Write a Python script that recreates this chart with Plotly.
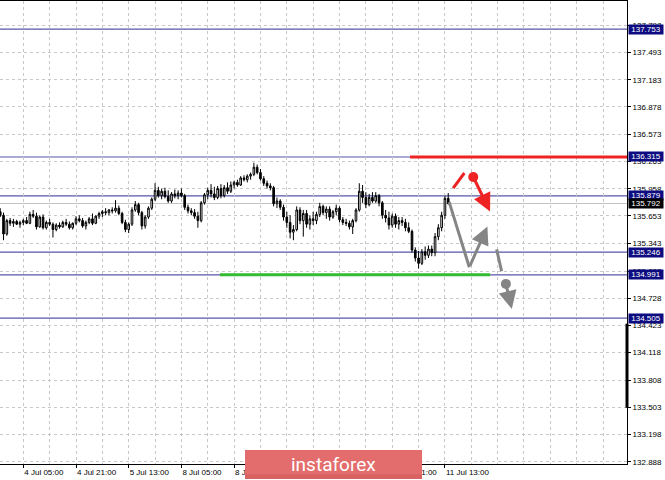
import plotly.graph_objects as go

# ---- data -------------------------------------------------------------
# hour index: 0 = 4 Jul 05:00 (H1 bars, weekend removed)
start_hour = -7
opens = [135.70,135.66,135.45,135.60,135.57,135.59,135.56,135.58,135.60,135.57,135.67,135.65,135.53,135.64,135.52,135.58,
         135.56,135.50,135.55,135.53,135.58,135.56,135.52,135.57,135.62,135.60,135.54,135.58,135.62,135.57,135.65,
         135.68,135.70,135.69,135.72,135.71,135.74,135.68,135.58,135.50,135.56,135.72,135.78,135.69,135.54,135.64,
         135.74,135.84,135.94,135.88,135.93,135.87,135.82,135.90,135.88,135.91,135.88,135.75,135.71,135.69,135.65,
         135.60,135.80,135.89,135.94,135.90,135.86,135.96,135.88,135.97,135.93,136.00,136.03,136.00,136.08,136.06,
         136.10,136.12,136.20,136.14,136.07,136.02,135.99,135.97,135.79,135.82,135.75,135.64,135.58,135.47,135.50,
         135.72,135.60,135.68,135.56,135.62,135.60,135.67,135.76,135.69,135.73,135.64,135.70,135.74,135.61,135.58,
         135.57,135.53,135.60,135.72,135.93,135.86,135.78,135.86,135.82,135.88,135.80,135.66,135.63,135.55,135.65,
         135.56,135.60,135.58,135.52,135.48,135.27,135.18,135.12,135.25,135.21,135.28,135.24,135.42,135.52,135.66,
         135.85]
highs = [135.74,135.69,135.62,135.63,135.62,135.61,135.60,135.62,135.64,135.70,135.72,135.69,135.66,135.67,135.60,135.62,
         135.58,135.57,135.58,135.60,135.62,135.59,135.58,135.65,135.66,135.63,135.60,135.64,135.68,135.66,135.70,
         135.72,135.74,135.73,135.75,135.83,135.77,135.70,135.61,135.58,135.75,135.82,135.80,135.71,135.66,135.76,
         135.86,136.02,135.98,135.96,135.97,135.94,135.92,135.95,135.94,135.96,135.90,135.78,135.74,135.73,135.70,
         135.82,135.91,135.97,136.01,135.98,135.99,136.01,136.00,136.03,136.04,136.05,136.06,136.10,136.11,136.12,
         136.14,136.25,136.23,136.18,136.10,136.05,136.02,135.99,135.86,135.84,135.78,135.70,135.66,135.55,135.76,
         135.75,135.72,135.72,135.66,135.70,135.70,135.80,135.78,135.76,135.76,135.72,135.78,135.76,135.64,135.62,
         135.60,135.62,135.74,136.02,136.00,135.92,135.90,135.92,135.92,135.90,135.82,135.72,135.70,135.68,135.68,
         135.64,135.64,135.62,135.58,135.50,135.30,135.26,135.28,135.31,135.32,135.32,135.46,135.56,135.70,135.88,
         135.91]
lows = [135.64,135.38,135.43,135.54,135.53,135.55,135.52,135.55,135.56,135.56,135.63,135.50,135.52,135.50,135.50,135.54,
        135.41,135.48,135.51,135.52,135.54,135.50,135.50,135.55,135.58,135.52,135.50,135.56,135.55,135.56,135.62,
        135.64,135.66,135.66,135.68,135.69,135.66,135.56,135.47,135.46,135.54,135.70,135.66,135.50,135.51,135.62,
        135.72,135.82,135.86,135.84,135.85,135.80,135.80,135.85,135.84,135.86,135.72,135.68,135.66,135.62,135.52,
        135.58,135.78,135.84,135.86,135.83,135.84,135.85,135.86,135.90,135.91,135.96,135.98,135.99,136.04,136.03,
        136.06,136.10,136.12,136.05,135.99,135.96,135.94,135.76,135.74,135.72,135.60,135.52,135.40,135.38,135.48,
        135.56,135.42,135.52,135.50,135.55,135.56,135.64,135.66,135.62,135.60,135.62,135.66,135.58,135.55,135.54,
        135.50,135.45,135.58,135.70,135.80,135.74,135.76,135.80,135.80,135.76,135.62,135.58,135.50,135.52,135.52,
        135.50,135.54,135.48,135.46,135.24,135.14,135.06,135.10,135.16,135.18,135.20,135.20,135.38,135.48,135.62,
        135.78]
closes = [135.66,135.45,135.60,135.57,135.59,135.56,135.58,135.60,135.57,135.67,135.65,135.53,135.64,135.52,135.58,135.56,
          135.50,135.55,135.53,135.58,135.56,135.52,135.57,135.62,135.60,135.54,135.58,135.62,135.57,135.65,135.68,
          135.70,135.69,135.72,135.71,135.74,135.68,135.58,135.50,135.56,135.72,135.78,135.69,135.54,135.64,135.74,
          135.84,135.94,135.88,135.93,135.87,135.82,135.90,135.88,135.91,135.88,135.75,135.71,135.69,135.65,135.60,
          135.80,135.89,135.94,135.90,135.86,135.96,135.88,135.97,135.93,136.00,136.03,136.00,136.08,136.06,136.10,
          136.12,136.20,136.14,136.07,136.02,135.99,135.97,135.79,135.82,135.75,135.64,135.58,135.47,135.50,135.72,
          135.60,135.68,135.56,135.62,135.60,135.67,135.76,135.69,135.73,135.64,135.70,135.74,135.61,135.58,135.57,
          135.53,135.60,135.72,135.93,135.86,135.78,135.86,135.82,135.88,135.80,135.66,135.63,135.55,135.65,135.56,
          135.60,135.58,135.52,135.48,135.27,135.18,135.12,135.25,135.21,135.28,135.24,135.42,135.52,135.66,135.85,
          135.792]

tick_hours = [0, 16, 32, 48, 64, 80, 96, 112, 128]
tick_labels = ["4 Jul 05:00", "4 Jul 21:00", "5 Jul 13:00", "8 Jul 05:00", "8 Jul 21:00",
               "9 Jul 13:00", "10 Jul 05:00", "10 Jul 21:00", "11 Jul 13:00"]

price_ticks = [132.888, 133.198, 133.503, 133.808, 134.118, 134.423, 134.728, 135.033, 135.343,
               135.653, 135.958, 136.263, 136.573, 136.878, 137.183, 137.493, 137.798]

levels = [137.753, 136.315, 135.879, 135.246, 134.991, 134.505]
bid_price = 135.792

resistance_price, resistance_from = 136.315, 117.4
support_price, support_from, support_to = 134.991, 59.7, 141.7

# forecast drawings (hour index, price)
red_stroke_x, red_stroke_y = [130.5, 133.9], [135.966, 136.135]
red_dot = (136.6, 136.090)
red_tip = (141.7, 135.703)
grey_path_x, grey_path_y = [129.3, 135.4], [135.808, 135.076]
grey_tip = (140.9, 135.535)
grey_stroke_x, grey_stroke_y = [143.7, 145.2], [135.276, 135.031]
grey_dot = (146.5, 134.889)
grey_tip2 = (148.3, 134.608)

x_range = [-7.07, 183.27]
y_range = [132.865, 138.068]

# ---- figure -----------------------------------------------------------
hours = list(range(start_hour, start_hour + len(closes)))
FONT = "Liberation Sans, Arial, sans-serif"
RED = "#EE2424"
GREY = "#858585"
GREEN = "#33BB33"
LEVEL = "#5656A8"

fig = go.Figure()
fig.add_trace(go.Candlestick(
    x=hours, open=opens, high=highs, low=lows, close=closes,
    increasing=dict(line=dict(color="black", width=1), fillcolor="white"),
    decreasing=dict(line=dict(color="black", width=1), fillcolor="black"),
    whiskerwidth=0, hoverinfo="skip", showlegend=False))

fig.add_trace(go.Scatter(x=red_stroke_x, y=red_stroke_y, mode="lines",
                         line=dict(color=RED, width=3), showlegend=False, hoverinfo="skip"))
fig.add_trace(go.Scatter(x=grey_path_x, y=grey_path_y, mode="lines",
                         line=dict(color=GREY, width=3), showlegend=False, hoverinfo="skip"))
fig.add_trace(go.Scatter(x=grey_stroke_x, y=grey_stroke_y, mode="lines",
                         line=dict(color=GREY, width=3), showlegend=False, hoverinfo="skip"))
fig.add_trace(go.Scatter(x=[red_dot[0]], y=[red_dot[1]], mode="markers",
                         marker=dict(color=RED, size=10), showlegend=False, hoverinfo="skip"))
fig.add_trace(go.Scatter(x=[grey_dot[0]], y=[grey_dot[1]], mode="markers",
                         marker=dict(color=GREY, size=10), showlegend=False, hoverinfo="skip"))

shapes = []
for lv in levels:
    shapes.append(dict(type="line", xref="paper", yref="y", x0=0, x1=1, y0=lv, y1=lv,
                       line=dict(color=LEVEL, width=1.2), layer="below"))
shapes.append(dict(type="line", xref="paper", yref="y", x0=0, x1=1, y0=bid_price, y1=bid_price,
                   line=dict(color="#C4C4C4", width=1), layer="below"))
shapes.append(dict(type="line", xref="x", yref="y", x0=resistance_from, x1=x_range[1],
                   y0=resistance_price, y1=resistance_price, line=dict(color=RED, width=3)))
shapes.append(dict(type="line", xref="x", yref="y", x0=support_from, x1=support_to,
                   y0=support_price, y1=support_price, line=dict(color=GREEN, width=3)))
# scroll marker on the price scale
shapes.append(dict(type="line", xref="paper", yref="y", x0=1.0, x1=1.0, y0=133.496, y1=134.442,
                   line=dict(color="black", width=3)))
# watermark
shapes.append(dict(type="rect", xref="paper", yref="paper", x0=245/627, x1=422/627,
                   y0=-0.0325, y1=0.0303, fillcolor="#E36C6C", line=dict(width=0), layer="above"))
shapes.append(dict(type="rect", xref="paper", yref="paper", x0=245/627, x1=422/627,
                   y0=-0.0325, y1=-0.022, fillcolor="#D86262", line=dict(width=0), layer="above"))

annotations = []
for lv in levels:
    annotations.append(dict(xref="paper", yref="y", x=1, y=lv, xanchor="left", xshift=1,
                            text=f"{lv:.3f}", showarrow=False, bgcolor="#0C0C80",
                            font=dict(family=FONT, size=8, color="white"),
                            width=34, height=9, borderpad=0))
annotations.append(dict(xref="paper", yref="y", x=1, y=bid_price, xanchor="left", xshift=1,
                        text=f"{bid_price:.3f}", showarrow=False, bgcolor="black",
                        font=dict(family=FONT, size=8, color="white"),
                        width=34, height=9, borderpad=0))
annotations.append(dict(xref="x", yref="y", axref="x", ayref="y",
                        x=red_tip[0], y=red_tip[1], ax=red_dot[0], ay=red_dot[1],
                        showarrow=True, arrowhead=2, arrowsize=1.2, arrowwidth=3,
                        arrowcolor=RED, text=""))
annotations.append(dict(xref="x", yref="y", axref="x", ayref="y",
                        x=grey_tip[0], y=grey_tip[1], ax=grey_path_x[-1], ay=grey_path_y[-1],
                        showarrow=True, arrowhead=2, arrowsize=1.2, arrowwidth=3,
                        arrowcolor=GREY, text=""))
annotations.append(dict(xref="x", yref="y", axref="x", ayref="y",
                        x=grey_tip2[0], y=grey_tip2[1], ax=grey_dot[0], ay=grey_dot[1],
                        showarrow=True, arrowhead=2, arrowsize=1.2, arrowwidth=3,
                        arrowcolor=GREY, text=""))
annotations.append(dict(xref="paper", yref="paper", x=333.5/627, y=-0.001,
                        xanchor="center", yanchor="middle",
                        text="instaforex", showarrow=False,
                        font=dict(family="Roboto, sans-serif", size=19, color="white")))

fig.update_layout(
    width=665, height=480,
    margin=dict(l=0, r=38, t=1, b=16),
    paper_bgcolor="white", plot_bgcolor="white",
    shapes=shapes, annotations=annotations,
    font=dict(family=FONT, size=8, color="black"),
    xaxis=dict(range=x_range, rangeslider=dict(visible=False),
               tickmode="array", tickvals=tick_hours, ticktext=tick_labels,
               ticklabelposition="outside right", tickangle=0,
               ticks="outside", ticklen=3, tickcolor="black",
               showgrid=True, gridcolor="#C8C8C8", griddash="3px,3px", gridwidth=1,
               minor=dict(tick0=0, dtick=8, showgrid=True, gridcolor="#C8C8C8",
                          griddash="3px,3px", gridwidth=1, ticks=""),
               showline=True, linecolor="black", linewidth=1, mirror=True,
               zeroline=False, tickfont=dict(family=FONT, size=8, color="black")),
    yaxis=dict(range=y_range, side="right", tickmode="array", tickvals=price_ticks,
               tickformat=".3f", ticks="outside", ticklen=3, tickcolor="black",
               showgrid=True, gridcolor="#C8C8C8", griddash="3px,3px", gridwidth=1,
               showline=True, linecolor="black", linewidth=1,
               zeroline=False, tickfont=dict(family=FONT, size=8, color="black")),
)

fig.write_html("out.html", config={"displayModeBar": False},
               post_script="document.body.style.margin='0px';")
